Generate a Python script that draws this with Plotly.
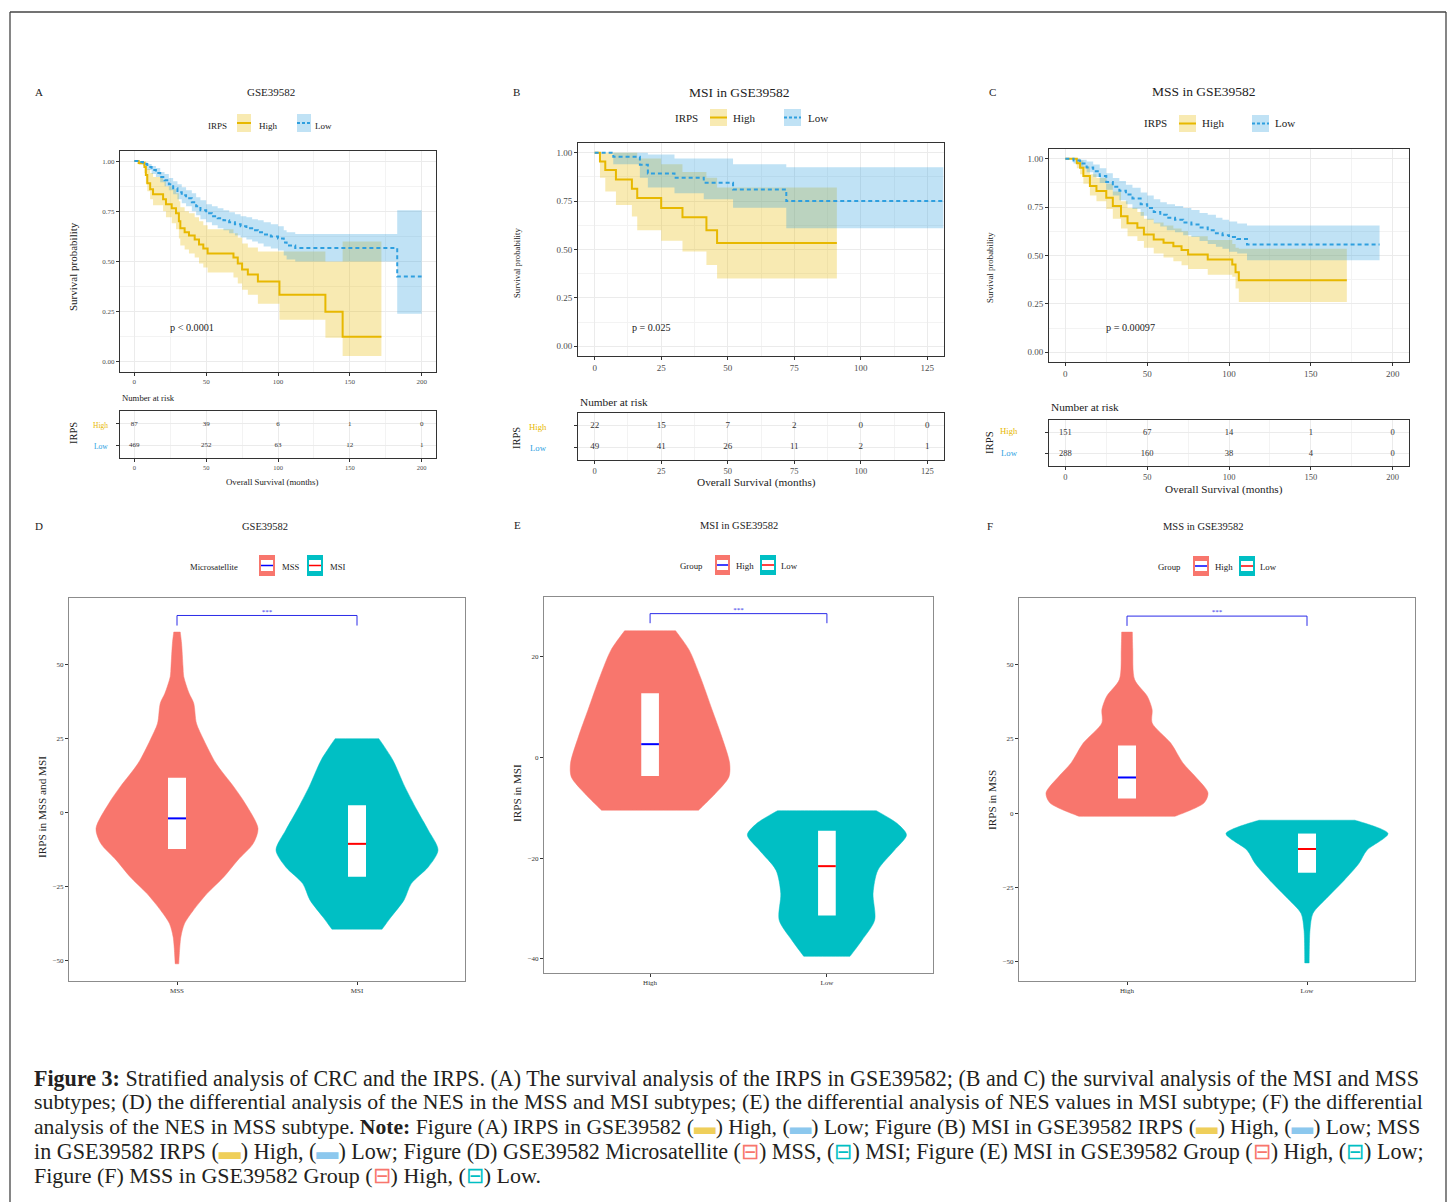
import plotly.graph_objects as go

W, H = 1454, 1202
FONT = "Liberation Serif"
GOLD, BLUE = "#E7B800", "#2E9FDF"
GOLD_F, BLUE_F = "rgba(231,184,0,0.30)", "rgba(46,159,223,0.30)"
SALMON, TEAL = "#F8766D", "#00BFC4"

# ---------------- DATA ----------------
# Panel A : GSE39582 (IRPS High / Low)
A_HIGH_T = [0, 3, 7, 8, 9, 11, 13, 20, 22, 26, 29, 31, 32, 35, 38, 42, 45, 48, 51, 69, 72, 75, 79, 86, 101, 133, 145, 172]
A_HIGH_S = [1.0, 0.99, 0.97, 0.93, 0.89, 0.86, 0.835, 0.81, 0.785, 0.765, 0.74, 0.70, 0.665, 0.645, 0.63, 0.61, 0.585, 0.565, 0.54, 0.52, 0.49, 0.46, 0.435, 0.40, 0.335, 0.25, 0.125, 0.125]
A_HIGH_LO = [1.0, 0.98, 0.94, 0.89, 0.85, 0.81, 0.78, 0.75, 0.72, 0.69, 0.66, 0.615, 0.58, 0.56, 0.54, 0.52, 0.49, 0.47, 0.445, 0.42, 0.39, 0.36, 0.335, 0.29, 0.21, 0.12, 0.03, 0.03]
A_HIGH_HI = [1.0, 1.0, 1.0, 0.98, 0.96, 0.94, 0.92, 0.9, 0.875, 0.86, 0.84, 0.8, 0.77, 0.75, 0.74, 0.72, 0.7, 0.68, 0.66, 0.64, 0.62, 0.59, 0.57, 0.55, 0.55, 0.5, 0.6, 0.6]
A_LOW_T = [0, 3, 6, 9, 12, 15, 18, 21, 24, 27, 30, 33, 36, 40, 43, 46, 50, 54, 58, 62, 66, 70, 74, 78, 82, 86, 90, 95, 100, 104, 106, 112, 183, 200]
A_LOW_S = [1.0, 0.995, 0.985, 0.97, 0.955, 0.94, 0.92, 0.905, 0.885, 0.865, 0.845, 0.83, 0.815, 0.795, 0.775, 0.755, 0.74, 0.725, 0.715, 0.705, 0.695, 0.685, 0.675, 0.665, 0.655, 0.645, 0.635, 0.625, 0.615, 0.595, 0.58, 0.567, 0.425, 0.425]
A_LOW_LO = [1.0, 0.99, 0.975, 0.955, 0.935, 0.92, 0.895, 0.875, 0.855, 0.835, 0.81, 0.79, 0.775, 0.75, 0.73, 0.71, 0.695, 0.68, 0.665, 0.655, 0.64, 0.63, 0.62, 0.61, 0.6, 0.59, 0.575, 0.565, 0.555, 0.53, 0.51, 0.5, 0.24, 0.24]
A_LOW_HI = [1.0, 1.0, 0.995, 0.985, 0.975, 0.965, 0.945, 0.935, 0.915, 0.9, 0.885, 0.87, 0.855, 0.84, 0.82, 0.805, 0.785, 0.775, 0.765, 0.755, 0.745, 0.735, 0.725, 0.72, 0.71, 0.705, 0.695, 0.685, 0.675, 0.655, 0.645, 0.637, 0.755, 0.755]
A_RISK_T = [0, 50, 100, 150, 200]
A_RISK_HIGH = [87, 39, 6, 1, 0]
A_RISK_LOW = [469, 252, 63, 12, 1]
A_PVAL = "p < 0.0001"

# Panel B : MSI in GSE39582
B_HIGH_T = [0, 2, 4, 8, 14, 16, 25, 33, 42, 46, 91]
B_HIGH_S = [1.0, 0.955, 0.91, 0.862, 0.814, 0.766, 0.714, 0.666, 0.6, 0.534, 0.534]
B_HIGH_LO = [1.0, 0.87, 0.8, 0.73, 0.67, 0.6, 0.545, 0.49, 0.42, 0.35, 0.35]
B_HIGH_HI = [1.0, 1.0, 1.0, 1.0, 1.0, 0.97, 0.94, 0.9, 0.87, 0.82, 0.82]
B_LOW_T = [0, 7, 17, 20, 30, 41, 52, 72, 131]
B_LOW_S = [1.0, 0.979, 0.938, 0.893, 0.871, 0.845, 0.81, 0.75, 0.75]
B_LOW_LO = [1.0, 0.94, 0.87, 0.82, 0.79, 0.76, 0.715, 0.61, 0.61]
B_LOW_HI = [1.0, 1.0, 1.0, 0.99, 0.97, 0.97, 0.94, 0.925, 0.925]
B_RISK_T = [0, 25, 50, 75, 100, 125]
B_RISK_HIGH = [22, 15, 7, 2, 0, 0]
B_RISK_LOW = [49, 41, 26, 11, 2, 1]
B_PVAL = "p = 0.025"

# Panel C : MSS in GSE39582
C_HIGH_T = [0, 7, 9, 11, 15, 19, 25, 29, 34, 38, 44, 48, 54, 60, 66, 71, 75, 87, 102, 104, 106, 172]
C_HIGH_S = [1.0, 0.976, 0.953, 0.91, 0.859, 0.833, 0.798, 0.755, 0.703, 0.666, 0.643, 0.609, 0.583, 0.566, 0.548, 0.528, 0.505, 0.479, 0.453, 0.414, 0.372, 0.372]
C_HIGH_LO = [1.0, 0.95, 0.92, 0.87, 0.81, 0.78, 0.74, 0.69, 0.64, 0.6, 0.575, 0.54, 0.51, 0.49, 0.47, 0.45, 0.43, 0.4, 0.39, 0.33, 0.26, 0.26]
C_HIGH_HI = [1.0, 1.0, 0.99, 0.96, 0.92, 0.9, 0.87, 0.83, 0.78, 0.745, 0.725, 0.69, 0.67, 0.655, 0.64, 0.625, 0.6, 0.58, 0.56, 0.54, 0.535, 0.535]
C_LOW_T = [0, 5, 9, 13, 17, 21, 25, 29, 33, 37, 41, 46, 50, 54, 58, 62, 67, 72, 77, 82, 87, 92, 96, 100, 105, 111, 192]
C_LOW_S = [1.0, 0.99, 0.975, 0.955, 0.935, 0.91, 0.88, 0.855, 0.835, 0.815, 0.795, 0.765, 0.745, 0.725, 0.71, 0.695, 0.685, 0.67, 0.66, 0.645, 0.63, 0.615, 0.605, 0.595, 0.585, 0.557, 0.557]
C_LOW_LO = [1.0, 0.975, 0.955, 0.93, 0.905, 0.875, 0.84, 0.81, 0.785, 0.765, 0.74, 0.705, 0.685, 0.665, 0.65, 0.63, 0.62, 0.605, 0.595, 0.575, 0.56, 0.545, 0.535, 0.52, 0.51, 0.475, 0.475]
C_LOW_HI = [1.0, 1.0, 0.995, 0.985, 0.97, 0.95, 0.925, 0.9, 0.885, 0.865, 0.85, 0.825, 0.81, 0.79, 0.775, 0.765, 0.755, 0.745, 0.735, 0.72, 0.71, 0.695, 0.685, 0.675, 0.665, 0.655, 0.655]
C_RISK_T = [0, 50, 100, 150, 200]
C_RISK_HIGH = [151, 67, 14, 1, 0]
C_RISK_LOW = [288, 160, 38, 4, 0]
C_PVAL = "p = 0.00097"

# Violin density profiles (value, relative half-width) and box stats [q1, median, q3]
D_CATS = ["MSS", "MSI"]
D_MSS_Y = [-51, -42, -37.4, -33, -27.3, -21.6, -16, -10.4, -5.3, 3.2, 8.8, 16.7, 24.6, 30.2, 37, 40.4, 46, 49.4, 57.3, 61]
D_MSS_W = [0.022, 0.047, 0.093, 0.2, 0.37, 0.58, 0.75, 0.94, 1.0, 0.84, 0.70, 0.48, 0.33, 0.24, 0.206, 0.148, 0.083, 0.074, 0.056, 0.04]
D_MSI_Y = [-39.3, -35.2, -29.5, -23.9, -18.3, -12.6, -5.9, 0.9, 8.8, 17.9, 25]
D_MSI_W = [0.31, 0.42, 0.58, 0.67, 0.88, 1.0, 0.88, 0.74, 0.59, 0.44, 0.27]
D_BOX = [[-12.2, -1.9, 11.8], [-21.6, -10.5, 2.5]]

E_CATS = ["High", "Low"]
E_HIGH_Y = [-10.5, -7.2, -3.9, -1.2, 4.1, 9.4, 16, 21.3, 25.1]
E_HIGH_W = [0.61, 0.82, 0.99, 1.0, 0.9, 0.78, 0.63, 0.49, 0.32]
E_LOW_Y = [-39.5, -36.3, -32.3, -27, -22.4, -18.4, -15.4, -13.1, -10.6]
E_LOW_W = [0.29, 0.44, 0.6, 0.58, 0.64, 0.85, 1.0, 0.88, 0.62]
E_BOX = [[-3.7, 2.6, 12.7], [-31.4, -21.6, -14.6]]

F_CATS = ["High", "Low"]
F_HIGH_Y = [-1.1, 3.4, 6.8, 12.4, 16.9, 23.6, 30.4, 34.9, 39.4, 45, 55.1, 61]
F_HIGH_W = [0.59, 0.95, 1.0, 0.84, 0.69, 0.54, 0.31, 0.31, 0.25, 0.094, 0.071, 0.066]
F_LOW_Y = [-50.5, -39.4, -33.8, -28.2, -22.6, -17, -12.5, -6.9, -2.4]
F_LOW_W = [0.027, 0.037, 0.074, 0.26, 0.46, 0.64, 0.74, 1.0, 0.59]
F_BOX = [[4.9, 12.0, 22.8], [-20.1, -12.1, -6.9]]

SIG_LABEL = "***"

CAPTION = [
    "<b>Figure 3:</b> Stratified analysis of CRC and the IRPS. (A) The survival analysis of the IRPS in GSE39582; (B and C) the survival analysis of the MSI and MSS",
    "subtypes; (D) the differential analysis of the NES in the MSS and MSI subtypes; (E) the differential analysis of NES values in MSI subtype; (F) the differential",
    "analysis of the NES in MSS subtype. <b>Note:</b> Figure (A) IRPS in GSE39582 ({kh}) High, ({kl}) Low; Figure (B) MSI in GSE39582 IRPS ({kh}) High, ({kl}) Low; MSS",
    "in GSE39582 IRPS ({kh}) High, ({kl}) Low; Figure (D) GSE39582 Microsatellite ({vh}) MSS, ({vl}) MSI; Figure (E) MSI in GSE39582 Group ({vh}) High, ({vl}) Low;",
    "Figure (F) MSS in GSE39582 Group ({vh}) High, ({vl}) Low.",
]

# ---------------- FIGURE ----------------
fig = go.Figure()
axes = {}
annots = []
shapes = []


def xn(i):
    return "xaxis" if i == 1 else f"xaxis{i}"


def yn(i):
    return "yaxis" if i == 1 else f"yaxis{i}"


def xr_(i):
    return "x" if i == 1 else f"x{i}"


def yr_(i):
    return "y" if i == 1 else f"y{i}"


def ann(text, x, y, size, xanchor="center", color="#222", angle=0):
    annots.append(dict(text=text, x=x / W, y=1 - y / H, xref="paper", yref="paper",
                       xanchor=xanchor, yanchor="middle", showarrow=False, textangle=angle,
                       font=dict(family=FONT, size=size, color=color)))


def rect(x0, y0, x1, y1, fill, line=None, lw=0):
    shapes.append(dict(type="rect", xref="paper", yref="paper", x0=x0 / W, x1=x1 / W,
                       y0=1 - y0 / H, y1=1 - y1 / H, fillcolor=fill,
                       line=dict(width=lw, color=line or fill), layer="above"))


def hline(x0, x1, y, color, width=1.5, dash="solid"):
    shapes.append(dict(type="line", xref="paper", yref="paper", x0=x0 / W, x1=x1 / W,
                       y0=1 - y / H, y1=1 - y / H, line=dict(color=color, width=width, dash=dash), layer="above"))


def km_panel(i, box, rbox, xr, xt, xminor, fs_tick, hi, lo, risk, lw=2):
    l, t, r, b = box
    common = dict(ticks="outside", ticklen=3, tickcolor="#333", showline=True, mirror=True,
                  linecolor="#333", linewidth=1, zeroline=False, showgrid=True,
                  gridcolor="#EBEBEB", gridwidth=1,
                  tickfont=dict(family=FONT, size=fs_tick, color="#4D4D4D"))
    axes[xn(i)] = dict(domain=[l / W, r / W], range=xr, anchor=yr_(i), tickmode="array",
                       tickvals=xt, ticktext=[str(v) for v in xt],
                       minor=dict(tickvals=xminor, showgrid=True, gridcolor="#F3F3F3", ticks=""), **common)
    yt = [0, 0.25, 0.5, 0.75, 1.0]
    axes[yn(i)] = dict(domain=[1 - b / H, 1 - t / H], range=[-0.05, 1.05], anchor=xr_(i), tickmode="array",
                       tickvals=yt, ticktext=[f"{v:.2f}" for v in yt],
                       minor=dict(tickvals=[0.125, 0.375, 0.625, 0.875], showgrid=True, gridcolor="#F3F3F3", ticks=""),
                       **common)
    xa, ya = xr_(i), yr_(i)
    for (T, S, LO, HI, col, fc, dash) in (hi, lo):
        fig.add_trace(go.Scatter(x=T, y=LO, mode="lines", line=dict(width=0, shape="hv"),
                                 xaxis=xa, yaxis=ya, showlegend=False, hoverinfo="skip"))
        fig.add_trace(go.Scatter(x=T, y=HI, mode="lines", line=dict(width=0, shape="hv"), fill="tonexty",
                                 fillcolor=fc, xaxis=xa, yaxis=ya, showlegend=False, hoverinfo="skip"))
    for (T, S, LO, HI, col, fc, dash) in (hi, lo):
        fig.add_trace(go.Scatter(x=T, y=S, mode="lines", line=dict(width=lw, shape="hv", color=col, dash=dash),
                                 xaxis=xa, yaxis=ya, showlegend=False, hoverinfo="skip"))
    # risk table
    j = i + 1
    rl, rt, rr, rb = rbox
    rcommon = dict(common)
    rcommon["tickfont"] = dict(family=FONT, size=fs_tick - 0.5, color="#4D4D4D")
    axes[xn(j)] = dict(domain=[rl / W, rr / W], range=xr, anchor=yr_(j), tickmode="array",
                       tickvals=xt, ticktext=[str(v) for v in xt],
                       minor=dict(tickvals=xminor, showgrid=True, gridcolor="#F3F3F3", ticks=""), **rcommon)
    axes[yn(j)] = dict(domain=[1 - rb / H, 1 - rt / H], range=[0.4, 2.6], anchor=xr_(j), tickmode="array",
                       tickvals=[1, 2], ticktext=["", ""], **common)
    RT, RH, RL, fs_risk = risk
    for yv, vals in ((2, RH), (1, RL)):
        fig.add_trace(go.Scatter(x=RT, y=[yv] * len(RT), mode="text", text=[str(v) for v in vals],
                                 textfont=dict(family=FONT, size=fs_risk, color="#333"),
                                 xaxis=xr_(j), yaxis=yr_(j), showlegend=False, hoverinfo="skip"))


def violin_panel(i, box, yr, yt, cats, profiles, boxes, fs_tick, sig_y):
    l, t, r, b = box
    common = dict(ticks="outside", ticklen=3, tickcolor="#333", showline=True, mirror=True,
                  linecolor="#8C8C8C", linewidth=1, zeroline=False, showgrid=False,
                  tickfont=dict(family=FONT, size=fs_tick, color="#333"))
    axes[xn(i)] = dict(domain=[l / W, r / W], range=[0.4, 2.6], anchor=yr_(i), tickmode="array",
                       tickvals=[1, 2], ticktext=cats, **common)
    axes[yn(i)] = dict(domain=[1 - b / H, 1 - t / H], range=yr, anchor=xr_(i), tickmode="array",
                       tickvals=yt, ticktext=[str(v).replace("-", "\u2212") for v in yt], **common)
    xa, ya = xr_(i), yr_(i)
    cols = [SALMON, TEAL]
    med_cols = ["#0000FF", "#FF0000"]
    for k, (Y, Wd) in enumerate(profiles):
        c = k + 1
        ry = list(Y)
        rx = [c + 0.45 * w for w in Wd]
        lx = [c - 0.45 * w for w in reversed(Wd)]
        ly = list(reversed(Y))
        # duplicate end points of each side so the trimmed ends stay flat with sharp corners
        xs = [rx[0]] + rx + [rx[-1], lx[0]] + lx + [lx[-1], rx[0]]
        ys = [ry[0]] + ry + [ry[-1], ly[0]] + ly + [ly[-1], ry[0]]
        fig.add_trace(go.Scatter(x=xs, y=ys, mode="lines", fill="toself", fillcolor=cols[k],
                                 line=dict(color=cols[k], width=0.5, shape="spline", smoothing=0.8),
                                 xaxis=xa, yaxis=ya, showlegend=False, hoverinfo="skip"))
        q1, med, q3 = boxes[k]
        fig.add_trace(go.Scatter(x=[c - 0.05, c + 0.05, c + 0.05, c - 0.05, c - 0.05], y=[q1, q1, q3, q3, q1],
                                 mode="lines", fill="toself", fillcolor="white", line=dict(width=0, color="white"),
                                 xaxis=xa, yaxis=ya, showlegend=False, hoverinfo="skip"))
        fig.add_trace(go.Scatter(x=[c - 0.05, c + 0.05], y=[med, med], mode="lines",
                                 line=dict(color=med_cols[k], width=2),
                                 xaxis=xa, yaxis=ya, showlegend=False, hoverinfo="skip"))
    y_top, y_drop = sig_y
    fig.add_trace(go.Scatter(x=[1, 1, 2, 2], y=[y_drop, y_top, y_top, y_drop], mode="lines",
                             line=dict(color="#2B2BE8", width=1), xaxis=xa, yaxis=ya,
                             showlegend=False, hoverinfo="skip"))
    fig.add_trace(go.Scatter(x=[1.5], y=[y_top], mode="text", text=[SIG_LABEL], textposition="top center",
                             textfont=dict(family=FONT, size=7, color="#2B2BE8"),
                             xaxis=xa, yaxis=ya, showlegend=False, hoverinfo="skip"))


# KM panels
km_panel(1, (120, 151, 436, 372), (120, 411, 436, 458), [-10, 210], A_RISK_T, [25, 75, 125, 175], 7,
         (A_HIGH_T, A_HIGH_S, A_HIGH_LO, A_HIGH_HI, GOLD, GOLD_F, "solid"),
         (A_LOW_T, A_LOW_S, A_LOW_LO, A_LOW_HI, BLUE, BLUE_F, "4px,3px"),
         (A_RISK_T, A_RISK_HIGH, A_RISK_LOW, 7))
km_panel(3, (578, 143, 944, 356), (578, 413, 944, 460), [-6.25, 131.25], B_RISK_T,
         [12.5, 37.5, 62.5, 87.5, 112.5], 9,
         (B_HIGH_T, B_HIGH_S, B_HIGH_LO, B_HIGH_HI, GOLD, GOLD_F, "solid"),
         (B_LOW_T, B_LOW_S, B_LOW_LO, B_LOW_HI, BLUE, BLUE_F, "4px,3px"),
         (B_RISK_T, B_RISK_HIGH, B_RISK_LOW, 9))
km_panel(5, (1049, 149, 1409, 362), (1049, 420, 1409, 466), [-10, 210], C_RISK_T, [25, 75, 125, 175], 9,
         (C_HIGH_T, C_HIGH_S, C_HIGH_LO, C_HIGH_HI, GOLD, GOLD_F, "solid"),
         (C_LOW_T, C_LOW_S, C_LOW_LO, C_LOW_HI, BLUE, BLUE_F, "4px,3px"),
         (C_RISK_T, C_RISK_HIGH, C_RISK_LOW, 8.5))

# Violin panels
violin_panel(7, (69, 598, 465, 981), [-56.8, 72.5], [-50, -25, 0, 25, 50], D_CATS,
             [(D_MSS_Y, D_MSS_W), (D_MSI_Y, D_MSI_W)], D_BOX, 7, (66.6, 63.2))
violin_panel(8, (544, 597, 933, 973), [-42.8, 31.8], [-40, -20, 0, 20], E_CATS,
             [(E_HIGH_Y, E_HIGH_W), (E_LOW_Y, E_LOW_W)], E_BOX, 7, (28.5, 26.6))
violin_panel(9, (1019, 598, 1415, 981), [-56.6, 72.5], [-50, -25, 0, 25, 50], F_CATS,
             [(F_HIGH_Y, F_HIGH_W), (F_LOW_Y, F_LOW_W)], F_BOX, 7, (66.4, 63.1))

# ---------------- TEXT ----------------
# Panel labels & titles
for lab, x, y in (("A", 39, 92), ("B", 516, 92), ("C", 992, 92), ("D", 39, 526), ("E", 517, 525), ("F", 990, 526)):
    ann(lab, x, y, 11)
ann("GSE39582", 271, 92, 11)
ann("MSI in GSE39582", 739, 92, 13.5)
ann("MSS in GSE39582", 1204, 91, 13.5)
ann("GSE39582", 265, 526, 10.5)
ann("MSI in GSE39582", 739, 525, 10.5)
ann("MSS in GSE39582", 1203, 526, 10.5)


# KM legends
def km_legend(title_x, y, hk, hx, lk, lx, ky0, ky1, fs):
    ann("IRPS", title_x, y, fs)
    rect(hk[0], ky0, hk[1], ky1, GOLD_F)
    hline(hk[0], hk[1], (ky0 + ky1) / 2, GOLD, 2)
    ann("High", hx, y, fs)
    rect(lk[0], ky0, lk[1], ky1, BLUE_F)
    hline(lk[0], lk[1], (ky0 + ky1) / 2, BLUE, 2, "3px,2px")
    ann("Low", lx, y, fs)


km_legend(217, 126, (237, 251), 268, (297, 311), 323, 114, 132, 9)
km_legend(686, 118, (710, 727), 744, (784, 801), 818, 109, 126, 11)
km_legend(1155, 123, (1179, 1196), 1213, (1252, 1269), 1285, 115, 132, 11)

# KM axis texts
for (sx, sy, ssz, irx, iry, isz, hx, hy, ly, hsz, nx, ny, nsz, ox, oy, osz, px, py, psz, ptxt) in (
        (73, 267, 11, 73, 433, 10.5, 110, 425, 446, 7.5, 120, 398, 8.7, 272, 482, 8.8, 192, 327, 10.2, A_PVAL),
        (517, 263, 8.7, 516, 438, 10.5, 549, 427, 448, 8.7, 578, 402, 11.3, 756, 483, 11.3, 651, 327, 10.1, B_PVAL),
        (990, 268, 8.8, 989, 443, 10.8, 1020, 431, 453, 8.7, 1049, 407, 11.3, 1224, 489, 11.2, 1130, 327, 10.2, C_PVAL)):
    ann("Survival probability", sx, sy, ssz, angle=-90)
    ann("IRPS", irx, iry, isz, angle=-90)
    ann("High", hx, hy, hsz, xanchor="right", color=GOLD)
    ann("Low", hx, ly, hsz, xanchor="right", color=BLUE)
    ann("Number at risk", nx, ny, nsz, xanchor="left")
    ann("Overall Survival (months)", ox, oy, osz)
    ann(ptxt, px, py, psz)


# Violin legends
def v_legend(title, tx, y, k1, l1, lx1, k2, l2, lx2, ky0, ky1, fs):
    ann(title, tx, y, fs)
    for (k, lab, lx, fill, med) in ((k1, l1, lx1, SALMON, "#0000FF"), (k2, l2, lx2, TEAL, "#FF0000")):
        rect(k[0], ky0, k[1], ky1, fill)
        rect(k[0] + 2, ky0 + 5, k[1] - 2, ky1 - 5, "white")
        hline(k[0] + 2, k[1] - 2, (ky0 + ky1) / 2, med, 1.5)
        ann(lab, lx, y, fs)


v_legend("Microsatellite", 214, 567, (259, 275), "MSS", 290, (307, 323), "MSI", 337, 555, 576, 8.6)
v_legend("Group", 691, 566, (715, 730), "High", 745, (760, 776), "Low", 789, 555, 575, 8.8)
v_legend("Group", 1169, 567, (1193, 1209), "High", 1224, (1239, 1255), "Low", 1268, 556, 576, 8.8)

ann("IRPS in MSS and MSI", 42, 807, 11.2, angle=-90)
ann("IRPS in MSI", 517, 793, 11.2, angle=-90)
ann("IRPS in MSS", 992, 800, 11.2, angle=-90)

# Caption
icons = dict(kh="<span style='color:#EFCF5A'>\u25ac</span>", kl="<span style='color:#8CC8EE'>\u25ac</span>",
             vh="<span style='color:#F8766D'>\u229f</span>", vl="<span style='color:#00BFC4'>\u229f</span>")
for line, y, fs in zip(CAPTION, (1078, 1102, 1127, 1151, 1175), (22.05, 21.8, 21.65, 22.1, 22.0)):
    ann(line.format(**icons), 32, y, fs, xanchor="left", color="#231F20")

# Outer frame
for (x0, y0, x1, y1) in ((10, 12, 1446, 12), (10, 12, 10, 1202), (1446, 12, 1446, 1202)):
    shapes.append(dict(type="line", xref="paper", yref="paper", x0=x0 / W, x1=x1 / W, y0=1 - y0 / H,
                       y1=1 - y1 / H, line=dict(color="#444", width=1.3)))

fig.update_layout(width=W, height=H, margin=dict(l=0, r=0, t=0, b=0), paper_bgcolor="white",
                  plot_bgcolor="white", showlegend=False, annotations=annots, shapes=shapes, **axes)

fig.write_html("out.html", include_plotlyjs=True, full_html=True, config={"displayModeBar": False},
               post_script="document.body.style.margin='0';")
